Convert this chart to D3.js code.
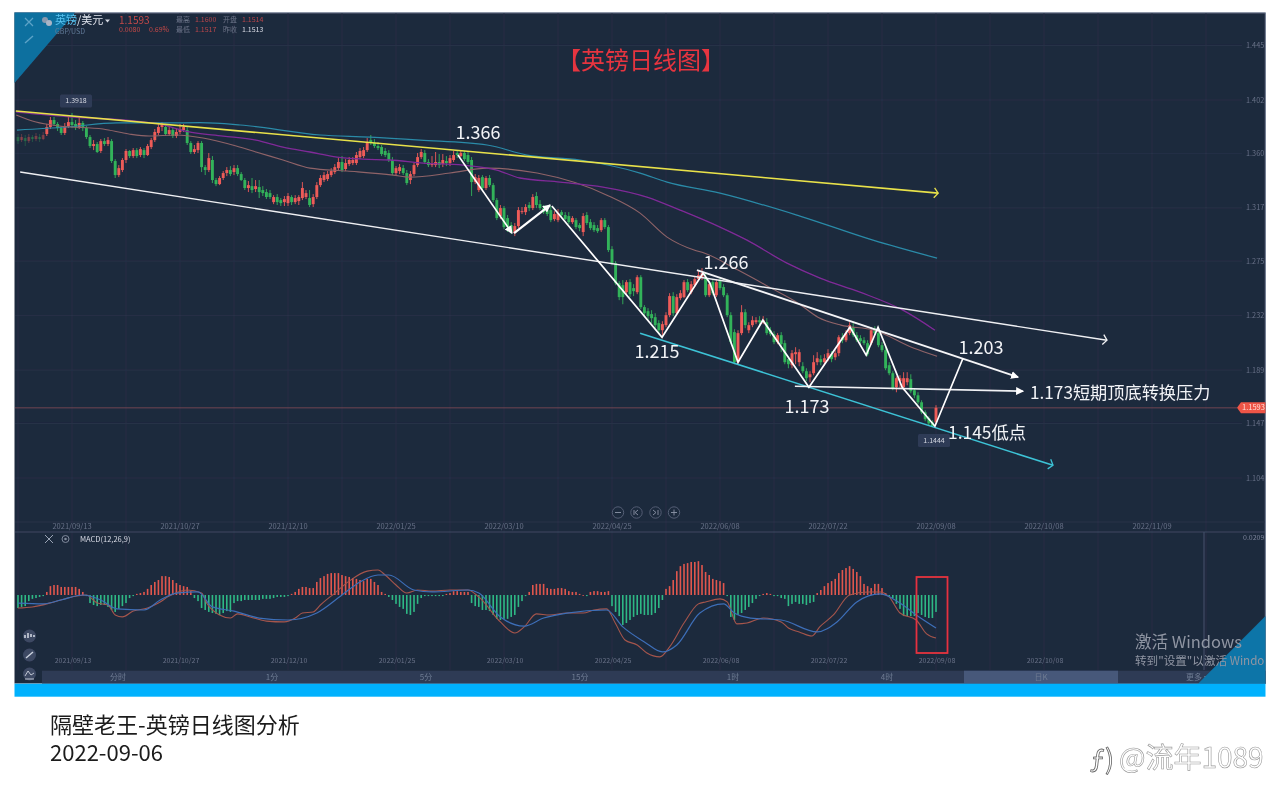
<!DOCTYPE html>
<html><head><meta charset="utf-8">
<script src="https://cdnjs.cloudflare.com/ajax/libs/d3/7.8.5/d3.min.js"></script>
<style>html,body{margin:0;background:#fff}svg{display:block}text{font-family:"Noto Sans CJK SC","Noto Sans",sans-serif}</style>
</head><body><svg id="c" width="1280" height="802"></svg>
<script>
const opens=[
1.3728,1.3704,1.3720,1.3696,1.3728,1.3712,1.3728,1.3712,1.3752,1.3807,1.3862,1.3831,1.3799,1.3760,1.3815,1.3846,
1.3831,1.3807,1.3839,1.3799,1.3728,1.3657,1.3673,1.3618,1.3696,1.3673,1.3696,1.3539,1.3428,1.3468,1.3547,1.3618,
1.3578,1.3625,1.3586,1.3625,1.3586,1.3649,1.3704,1.3760,1.3807,1.3807,1.3752,1.3783,1.3736,1.3768,1.3783,1.3783,
1.3681,1.3610,1.3625,1.3681,1.3491,1.3468,1.3547,1.3389,1.3357,1.3405,1.3444,1.3468,1.3452,1.3483,1.3436,1.3389,
1.3326,1.3341,1.3318,1.3334,1.3310,1.3294,1.3286,1.3215,1.3255,1.3231,1.3215,1.3207,1.3255,1.3215,1.3223,1.3247,
1.3255,1.3247,1.3199,1.3255,1.3349,1.3389,1.3397,1.3428,1.3452,1.3483,1.3531,1.3476,1.3515,1.3523,1.3523,1.3570,
1.3578,1.3625,1.3704,1.3681,1.3657,1.3649,1.3618,1.3602,1.3547,1.3444,1.3460,1.3483,1.3444,1.3389,1.3436,1.3507,
1.3570,1.3602,1.3531,1.3507,1.3507,1.3531,1.3515,1.3539,1.3523,1.3547,1.3602,1.3578,1.3602,1.3586,1.3547,1.3373,
1.3310,1.3412,1.3326,1.3405,1.3349,1.3231,1.3105,1.3168,1.3089,1.3034,1.2971,1.3026,1.3136,1.3136,1.3192,1.3168,
1.3263,1.3199,1.3168,1.3152,1.3152,1.3081,1.3073,1.3136,1.3113,1.3105,1.3057,1.3073,1.3034,1.2979,1.3113,1.3057,
1.3034,1.3010,1.2994,1.3073,1.3018,1.2844,1.2734,1.2576,1.2560,1.2505,1.2584,1.2537,1.2505,1.2623,1.2387,1.2355,
1.2332,1.2308,1.2261,1.2205,1.2245,1.2324,1.2474,1.2339,1.2458,1.2466,1.2584,1.2505,1.2560,1.2608,1.2623,1.2623,
1.2481,1.2584,1.2481,1.2592,1.2545,1.2481,1.2324,1.2190,1.1953,1.2182,1.2347,1.2205,1.2245,1.2268,1.2284,1.2268,
1.2268,1.2205,1.2174,1.2111,1.2166,1.2103,1.1977,1.1929,1.2016,1.1953,1.1921,1.1882,1.1834,1.1866,1.1953,1.1977,
1.1953,1.1984,1.2016,1.1992,1.2024,1.2150,1.2126,1.2182,1.2229,1.2166,1.2142,1.2126,1.2103,1.2103,1.2213,1.2182,
1.2087,1.2048,1.1929,1.1866,1.1755,1.1803,1.1755,1.1795,1.1819,1.1732,1.1692,1.1637,1.1558,1.1511,1.1479,1.1479];
const closes=[
1.3696,1.3728,1.3696,1.3728,1.3712,1.3736,1.3712,1.3744,1.3807,1.3862,1.3831,1.3799,1.3760,1.3815,1.3846,1.3823,
1.3807,1.3839,1.3799,1.3728,1.3657,1.3673,1.3610,1.3696,1.3673,1.3704,1.3539,1.3428,1.3483,1.3547,1.3618,1.3578,
1.3625,1.3578,1.3633,1.3586,1.3657,1.3704,1.3768,1.3807,1.3823,1.3752,1.3783,1.3736,1.3768,1.3791,1.3807,1.3681,
1.3610,1.3633,1.3681,1.3491,1.3468,1.3562,1.3389,1.3357,1.3405,1.3444,1.3468,1.3436,1.3483,1.3436,1.3389,1.3326,
1.3349,1.3310,1.3341,1.3294,1.3286,1.3255,1.3255,1.3255,1.3215,1.3207,1.3239,1.3263,1.3215,1.3247,1.3255,1.3326,
1.3286,1.3192,1.3255,1.3349,1.3405,1.3428,1.3436,1.3460,1.3491,1.3531,1.3468,1.3523,1.3547,1.3547,1.3586,1.3618,
1.3625,1.3689,1.3681,1.3657,1.3641,1.3594,1.3586,1.3547,1.3444,1.3483,1.3491,1.3444,1.3365,1.3436,1.3507,1.3570,
1.3610,1.3531,1.3507,1.3523,1.3531,1.3507,1.3547,1.3523,1.3562,1.3586,1.3586,1.3602,1.3554,1.3531,1.3373,1.3412,
1.3405,1.3326,1.3405,1.3349,1.3231,1.3089,1.3168,1.3018,1.3018,1.2979,1.3026,1.3152,1.3144,1.3176,1.3168,1.3255,
1.3192,1.3168,1.3136,1.3121,1.3073,1.3121,1.3128,1.3113,1.3081,1.3057,1.3089,1.3018,1.3010,1.3105,1.3050,1.3010,
1.2994,1.2986,1.3073,1.3018,1.2837,1.2734,1.2576,1.2466,1.2466,1.2584,1.2489,1.2513,1.2623,1.2387,1.2339,1.2316,
1.2300,1.2245,1.2205,1.2253,1.2324,1.2474,1.2339,1.2466,1.2497,1.2584,1.2521,1.2568,1.2608,1.2639,1.2655,1.2481,
1.2568,1.2497,1.2584,1.2537,1.2481,1.2324,1.2111,1.1953,1.2182,1.2347,1.2245,1.2245,1.2284,1.2284,1.2268,1.2284,
1.2182,1.2174,1.2111,1.2166,1.2095,1.1953,1.1937,1.2024,1.2032,1.2032,1.1882,1.1827,1.1858,1.1953,1.1984,1.1953,
1.1984,1.2024,1.1977,1.2024,1.2150,1.2126,1.2182,1.2245,1.2166,1.2126,1.2119,1.2103,1.2016,1.2205,1.2182,1.2087,
1.2048,1.1905,1.1866,1.1748,1.1827,1.1827,1.1827,1.1827,1.1724,1.1692,1.1637,1.1558,1.1503,1.1471,1.1448,1.1593];
const highs=[
1.3752,1.3752,1.3744,1.3752,1.3744,1.3760,1.3752,1.3768,1.3831,1.3886,1.3886,1.3846,1.3815,1.3839,1.3886,1.3918,
1.3862,1.3878,1.3854,1.3815,1.3744,1.3704,1.3689,1.3712,1.3720,1.3728,1.3712,1.3554,1.3507,1.3562,1.3633,1.3625,
1.3641,1.3641,1.3649,1.3641,1.3673,1.3720,1.3791,1.3839,1.3846,1.3831,1.3807,1.3807,1.3799,1.3831,1.3831,1.3807,
1.3696,1.3665,1.3696,1.3696,1.3507,1.3602,1.3578,1.3405,1.3420,1.3460,1.3491,1.3499,1.3507,1.3507,1.3452,1.3405,
1.3381,1.3405,1.3389,1.3389,1.3341,1.3318,1.3310,1.3270,1.3278,1.3247,1.3263,1.3286,1.3270,1.3270,1.3270,1.3373,
1.3310,1.3310,1.3278,1.3373,1.3428,1.3452,1.3460,1.3483,1.3515,1.3562,1.3578,1.3554,1.3570,1.3570,1.3610,1.3641,
1.3649,1.3720,1.3744,1.3712,1.3689,1.3665,1.3641,1.3625,1.3570,1.3499,1.3515,1.3507,1.3468,1.3460,1.3523,1.3602,
1.3633,1.3625,1.3554,1.3578,1.3610,1.3594,1.3594,1.3578,1.3586,1.3618,1.3625,1.3625,1.3618,1.3610,1.3570,1.3436,
1.3428,1.3428,1.3420,1.3428,1.3365,1.3247,1.3192,1.3184,1.3113,1.3057,1.3050,1.3176,1.3176,1.3199,1.3215,1.3278,
1.3294,1.3231,1.3192,1.3176,1.3184,1.3144,1.3160,1.3152,1.3136,1.3136,1.3105,1.3089,1.3050,1.3128,1.3136,1.3081,
1.3057,1.3034,1.3089,1.3089,1.3034,1.2868,1.2750,1.2592,1.2600,1.2600,1.2608,1.2568,1.2639,1.2639,1.2403,1.2379,
1.2363,1.2339,1.2284,1.2276,1.2347,1.2497,1.2505,1.2489,1.2521,1.2600,1.2608,1.2592,1.2631,1.2671,1.2695,1.2655,
1.2592,1.2608,1.2608,1.2623,1.2568,1.2497,1.2347,1.2213,1.2205,1.2403,1.2371,1.2268,1.2316,1.2308,1.2316,1.2316,
1.2300,1.2229,1.2197,1.2182,1.2190,1.2126,1.2000,1.2048,1.2071,1.2055,1.1953,1.1905,1.1882,1.2008,1.2032,1.2008,
1.2016,1.2055,1.2040,1.2048,1.2166,1.2182,1.2205,1.2268,1.2261,1.2190,1.2166,1.2150,1.2126,1.2229,1.2237,1.2205,
1.2111,1.2071,1.1953,1.1882,1.1842,1.1850,1.1874,1.1874,1.1858,1.1748,1.1716,1.1653,1.1574,1.1527,1.1495,1.1614];
const lows=[
1.3673,1.3689,1.3657,1.3681,1.3689,1.3696,1.3689,1.3704,1.3736,1.3791,1.3815,1.3775,1.3744,1.3744,1.3799,1.3799,
1.3783,1.3791,1.3775,1.3712,1.3641,1.3625,1.3602,1.3602,1.3657,1.3657,1.3523,1.3405,1.3412,1.3452,1.3523,1.3562,
1.3562,1.3562,1.3570,1.3562,1.3578,1.3633,1.3689,1.3744,1.3775,1.3736,1.3736,1.3720,1.3720,1.3752,1.3768,1.3665,
1.3594,1.3594,1.3602,1.3452,1.3428,1.3452,1.3365,1.3341,1.3349,1.3389,1.3420,1.3420,1.3428,1.3420,1.3381,1.3310,
1.3294,1.3286,1.3294,1.3247,1.3263,1.3239,1.3239,1.3199,1.3192,1.3184,1.3184,1.3184,1.3192,1.3199,1.3192,1.3231,
1.3239,1.3176,1.3176,1.3239,1.3334,1.3373,1.3381,1.3412,1.3436,1.3468,1.3452,1.3460,1.3499,1.3507,1.3507,1.3554,
1.3562,1.3610,1.3665,1.3641,1.3625,1.3578,1.3570,1.3531,1.3428,1.3428,1.3436,1.3428,1.3349,1.3357,1.3420,1.3491,
1.3554,1.3515,1.3491,1.3491,1.3491,1.3483,1.3491,1.3499,1.3499,1.3531,1.3562,1.3570,1.3539,1.3515,1.3263,1.3357,
1.3294,1.3310,1.3310,1.3334,1.3215,1.3073,1.3081,1.3002,1.2979,1.2963,1.2947,1.3010,1.3121,1.3113,1.3144,1.3152,
1.3168,1.3152,1.3121,1.3105,1.3057,1.3065,1.3057,1.3089,1.3073,1.3042,1.3042,1.3002,1.2986,1.2947,1.3034,1.2994,
1.2979,1.2971,1.2979,1.3002,1.2821,1.2718,1.2560,1.2442,1.2410,1.2489,1.2466,1.2474,1.2489,1.2371,1.2308,1.2284,
1.2261,1.2221,1.2174,1.2166,1.2229,1.2308,1.2316,1.2324,1.2442,1.2458,1.2505,1.2489,1.2545,1.2592,1.2600,1.2466,
1.2466,1.2481,1.2466,1.2521,1.2466,1.2308,1.2095,1.1937,1.1937,1.2166,1.2221,1.2182,1.2229,1.2253,1.2245,1.2253,
1.2166,1.2158,1.2095,1.2095,1.2032,1.1937,1.1905,1.1905,1.1937,1.1921,1.1866,1.1803,1.1795,1.1850,1.1929,1.1929,
1.1929,1.1961,1.1953,1.1969,1.2000,1.2103,1.2111,1.2166,1.2150,1.2111,1.2095,1.2087,1.2000,1.2087,1.2166,1.2071,
1.2032,1.1890,1.1850,1.1732,1.1716,1.1748,1.1732,1.1771,1.1708,1.1669,1.1621,1.1543,1.1487,1.1456,1.1444,1.1464];

// MACD histogram, in units of 0.0001
const macdHist=[
-47,-43,-40,-22,-14,-11,-7,-4,11,32,36,36,29,29,29,29,
29,22,11,-4,-29,-36,-40,-36,-36,-43,-54,-61,-50,-40,-29,-11,
-4,4,7,11,22,36,47,54,68,68,65,54,43,36,32,29,
14,-11,-22,-47,-54,-61,-65,-68,-72,-65,-58,-61,-29,-22,-22,-18,
-18,-18,-18,-18,-14,-14,-14,-11,-7,-7,-7,-4,4,11,22,29,
29,25,25,47,61,68,76,79,79,79,72,68,65,61,58,54,
50,58,58,47,36,11,4,-7,-18,-32,-43,-50,-68,-72,-61,-32,
-11,-4,-4,-4,-4,-4,-4,4,7,14,14,11,11,11,-29,-40,
-43,-54,-54,-58,-72,-86,-90,-86,-86,-79,-72,-43,-22,-4,11,36,
40,40,40,25,22,22,25,25,22,14,11,11,4,0,-4,11,
14,14,11,11,14,-40,-61,-76,-108,-101,-90,-79,-72,-68,-72,-72,
-72,-65,-47,-18,22,32,54,86,104,112,115,119,119,122,108,83,
72,58,54,50,43,-4,-79,-90,-72,-65,-54,-43,-29,-14,-4,4,
7,4,-4,-4,-11,-14,-40,-32,-25,-32,-32,-36,-29,-25,7,18,
32,43,50,58,79,90,97,104,94,83,68,40,32,25,40,40,
25,7,-4,-11,-32,-50,-76,-76,-76,-76,-65,-72,-79,-83,-83,-61];
const difIdx=[0,4,10,15,19,22,25,27,29,32,36,39,42,47,51,52.4,56,59,61,64.5,69,74,77,79,82,84,88,92,97,100,102,105,108,111,115,120,125,128,134,138,140.6,144,147.7,152.5,157,160,163.5,165.9,168.6,172,174.7,178.3,181,185,189,191,195,197,199.7,202.5,207,212,214,217,220.5,222.7,226.5,231,236,239.5,242,245,249.5,252.4,255];
const difVal=[-47,-43,-25,-7,0,-29,-36,-72,-79,-58,-47,-29,-4,18,7,-29,-72,-83,-68,-79,-94,-97,-83,-65,-61,-36,7,50,86,90,72,36,7,18,14,18,18,-7,-97,-137,-115,-68,-72,-65,-65,-54,-50,-101,-162,-180,-209,-223,-187,-101,-32,-25,-14,-25,-104,-101,-83,-97,-119,-133,-148,-115,-72,0,11,11,-7,-65,-90,-140,-155];
const deaIdx=[0,7,12,18,23,27.5,35,39.5,44,50,54,60,67,75,83,90,95,100,103,110,115,125,128,134,140.6,146,152.5,163.5,168,174,179,183,189.4,196,199,203.5,212,222,227.5,233,239.5,245,249.5,255];
const deaVal=[-29,-32,-18,0,-18,-50,-54,-18,7,11,-43,-58,-83,-90,-65,0,47,72,72,18,11,18,7,-79,-112,-83,-65,-54,-115,-169,-205,-180,-65,-32,-65,-83,-90,-133,-97,-25,4,-29,-72,-119];

// moving averages
const purpleIdx=[-0.5,15,32.8,39.2,47.5,57,66.1,73.6,81.1,88.6,95.8,103.3,112.5,123.6,133,139.4,150.6,162.5,174.7,183.9,195,202.5,213.6,222.8,233.9,245.8,254.7];
const purpleVal=[1.3925,1.3886,1.3854,1.3831,1.3768,1.3736,1.3704,1.3649,1.3610,1.3570,1.3554,1.3547,1.3523,1.3507,1.3468,1.3405,1.3373,1.3334,1.3255,1.3152,1.3018,1.2915,1.2734,1.2616,1.2505,1.2363,1.2205];
const tanIdx=[-0.5,5,11.4,23.6,30.8,36.4,43.9,51.4,60.6,66.1,73.6,81.1,91.4,104.2,108.9,120,130.3,144.2,163.6,172.8,180.3,187.8,190.6,200,209.2,216.7,222.2,228.6,237.8,248.9,255.3];
const tanVal=[1.3902,1.3846,1.3815,1.3791,1.3752,1.3736,1.3744,1.3720,1.3657,1.3610,1.3547,1.3483,1.3460,1.3428,1.3412,1.3444,1.3483,1.3444,1.3270,1.3128,1.2939,1.2837,1.2813,1.2679,1.2537,1.2418,1.2308,1.2245,1.2205,1.2063,1.2000];
const tealIdx=[-0.3,13.6,27.5,41.4,50.6,61.7,83.9,97.8,111.7,130.3,141.4,156.1,172.8,180.3,195,217.2,237.5,255.3];
const tealVal=[1.3783,1.3807,1.3839,1.3839,1.3841,1.3823,1.3744,1.3728,1.3704,1.3665,1.3586,1.3547,1.3444,1.3373,1.3286,1.3105,1.2915,1.2773];

// hand-drawn analysis lines: [bar index, price]
const yellowTrend=[[-0.6,1.3933],[255.6,1.3286]];
const whiteChannel=[[0.6,1.3452],[302.5,1.2126]];
const cyanChannel=[[172.8,1.2182],[287.5,1.1140]];
const resistance=[[188.6,1.2679],[277.8,1.1835]];
const pressure=[[215.8,1.1763],[279.2,1.1724]];
const zigA=[[122.2,1.3586],[137.2,1.2971]];
const zigB=[[137.8,1.2971],[147.8,1.3192]];
const zigC=[[148.3,1.3184],[178.9,1.2150],[190.3,1.2655],[192.2,1.2576],[200,1.1953],[206.9,1.2284],[219.7,1.1755],[231.1,1.2229],[235.6,1.2008],[238.9,1.2229],[245.6,1.1755],[254.7,1.1448],[262.5,1.1984]];

const priceTicks=[1.445,1.402,1.360,1.317,1.275,1.232,1.189,1.147,1.104];
const dateIdx=[15,45,75,105,135,165,195,225,255,285,315];
const dateLabels=["2021/09/13","2021/10/27","2021/12/10","2022/01/25","2022/03/10","2022/04/25","2022/06/08","2022/07/22","2022/09/08","2022/10/08","2022/11/09"];
const gridIdx=d3.range(0,331,15);
const tabLabels=["分时","1分","5分","15分","1时","4时","日K","更多 ▾"];
const tabCenters=[118,272,426,580,733,887,1041,1197];
const lastPrice=1.1593, lastLow=1.1444, topHigh=1.3918, macdTop=209;

const x=d3.scaleLinear().domain([0,255]).range([18,936]);
const y=d3.scaleLinear().domain([1.402,1.104]).range([100,478]);
const ym=d3.scaleLinear().domain([-macdTop,macdTop]).range([653,537]);
const svg=d3.select("#c");
const GRID="#28334a", BG="#1e293d", RED="#ee5b58", GREEN="#33b35a";

const defs=svg.append("defs");
defs.append("filter").attr("id","soft").attr("filterUnits","userSpaceOnUse").attr("x",0).attr("y",0).attr("width",1280).attr("height",802)
  .append("feGaussianBlur").attr("stdDeviation",0.4);
function chev(id,c,s){defs.append("marker").attr("id",id).attr("markerUnits","userSpaceOnUse").attr("markerWidth",s*2+4).attr("markerHeight",s*2+4)
 .attr("refX",s+1).attr("refY",s+2).attr("orient","auto").attr("viewBox",`0 0 ${s*2+4} ${s*2+4}`)
 .append("path").attr("d",`M2,2 L${s+1},${s+2} L2,${s*2+2}`).attr("fill","none").attr("stroke",c).attr("stroke-width",1.3);}
chev("mY","#e8e24a",5);chev("mW","#f2f4f6",5);chev("mC","#3cc3d6",5);
function solid(id,c){defs.append("marker").attr("id",id).attr("markerUnits","userSpaceOnUse").attr("markerWidth",12).attr("markerHeight",12)
 .attr("refX",7).attr("refY",5).attr("orient","auto").attr("viewBox","0 0 12 10").append("path").attr("d","M0,1 L8,5 L0,9 Z").attr("fill",c);}
solid("mS","#ffffff");

const root=svg.append("g").attr("filter","url(#soft)");
root.append("rect").attr("x",14.5).attr("y",12.5).attr("width",1251).attr("height",671).attr("fill",BG);
root.append("line").attr("x1",14.5).attr("x2",1265.5).attr("y1",12.8).attr("y2",12.8).attr("stroke","#8e99ad");
root.append("line").attr("x1",1265.3).attr("x2",1265.3).attr("y1",13).attr("y2",684).attr("stroke","#6e7b92");

// grid
root.append("g").selectAll("line").data(gridIdx).join("line")
 .attr("x1",d=>x(d)).attr("x2",d=>x(d)).attr("y1",13).attr("y2",670).attr("stroke",GRID).attr("stroke-width",.8);
root.append("g").selectAll("line").data(priceTicks).join("line")
 .attr("x1",15).attr("x2",1242).attr("y1",d=>y(d)).attr("y2",d=>y(d)).attr("stroke",GRID).attr("stroke-width",.8);
root.append("line").attr("x1",15).attr("x2",1265).attr("y1",522).attr("y2",522).attr("stroke",GRID);
root.append("line").attr("x1",15).attr("x2",1265).attr("y1",532).attr("y2",532).attr("stroke","#3d4a63");
root.append("line").attr("x1",1204).attr("x2",1204).attr("y1",532).attr("y2",670).attr("stroke","#46536c");

// last price line
root.append("line").attr("x1",15).attr("x2",1237).attr("y1",y(lastPrice)).attr("y2",y(lastPrice)).attr("stroke","#6e4552").attr("stroke-width",1);

// candles
const idx=d3.range(closes.length);
const cg=root.append("g");
cg.selectAll("line").data(idx).join("line")
 .attr("x1",i=>x(i)).attr("x2",i=>x(i)).attr("y1",i=>y(highs[i])).attr("y2",i=>y(lows[i]))
 .attr("stroke",i=>closes[i]>=opens[i]?RED:GREEN).attr("stroke-width",.9).attr("opacity",i=>i<8?.35:1);
cg.selectAll("rect").data(idx).join("rect")
 .attr("x",i=>x(i)-1.45).attr("width",2.9)
 .attr("y",i=>y(Math.max(opens[i],closes[i])))
 .attr("height",i=>Math.max(1,Math.abs(y(opens[i])-y(closes[i]))))
 .attr("fill",i=>closes[i]>=opens[i]?RED:GREEN).attr("opacity",i=>i<8?.35:1);

// moving averages
const line=d3.line().x(d=>x(d[0])).y(d=>y(d[1])).curve(d3.curveMonotoneX);
const zip=(a,b)=>a.map((v,i)=>[v,b[i]]);
root.append("path").attr("d",line(zip(tealIdx,tealVal))).attr("fill","none").attr("stroke","#2a8ba8").attr("stroke-width",1.2);
root.append("path").attr("d",line(zip(tanIdx,tanVal))).attr("fill","none").attr("stroke","#8f6468").attr("stroke-width",1.1);
root.append("path").attr("d",line(zip(purpleIdx,purpleVal))).attr("fill","none").attr("stroke","#7f2a98").attr("stroke-width",1.3);

// analysis lines
const straight=d3.line().x(d=>x(d[0])).y(d=>y(d[1]));
function draw(pts,c,w,marker){const p=root.append("path").attr("d",straight(pts)).attr("fill","none").attr("stroke",c).attr("stroke-width",w).attr("stroke-linejoin","miter");
 if(marker)p.attr("marker-end",`url(#${marker})`);return p;}
draw(yellowTrend,"#e8e24a",1.6,"mY");
draw(whiteChannel,"#eef0f3",1.4,"mW");
draw(cyanChannel,"#3cc3d6",1.6,"mC");
draw(resistance,"#f4f5f7",1.9,"mS");
draw(pressure,"#f0f2f5",1.6,"mS");
draw(zigA,"#ffffff",1.6,"mS");
draw(zigB,"#ffffff",2.2,"mS");
draw(zigC,"#ffffff",1.7);

// axis labels
const dim="#667287";
root.append("g").selectAll("text").data(priceTicks).join("text").attr("x",1246).attr("y",d=>y(d)).attr("dy","0.35em")
 .attr("font-size",7.3).attr("fill",dim).text(d=>d.toFixed(3));
root.append("g").selectAll("text").data(dateIdx).join("text").attr("x",d=>x(d)).attr("y",526.5).attr("dy","0.35em")
 .attr("text-anchor","middle").attr("font-size",7.5).attr("fill",dim).text((d,i)=>dateLabels[i]);
root.append("g").selectAll("text").data(dateIdx.slice(0,10)).join("text").attr("x",d=>x(d)+1).attr("y",661).attr("dy","0.35em")
 .attr("text-anchor","middle").attr("font-size",7).attr("fill",dim).text((d,i)=>dateLabels[i]);

// MACD
root.append("g").selectAll("rect").data(idx).join("rect")
 .attr("x",i=>x(i)-.8).attr("width",1.6)
 .attr("y",i=>macdHist[i]>=0?ym(macdHist[i]):ym(0))
 .attr("height",i=>Math.max(.8,Math.abs(ym(macdHist[i])-ym(0))))
 .attr("fill",i=>macdHist[i]>=0?"#e0564e":"#2fb885");
const ml=d3.line().x(d=>x(d[0])).y(d=>ym(d[1])).curve(d3.curveMonotoneX);
root.append("path").attr("d",ml(zip(difIdx,difVal))).attr("fill","none").attr("stroke","#a5564c").attr("stroke-width",1.1);
root.append("path").attr("d",ml(zip(deaIdx,deaVal))).attr("fill","none").attr("stroke","#3c6fb8").attr("stroke-width",1.2);
root.append("rect").attr("x",916.5).attr("y",577).attr("width",31).attr("height",76).attr("fill","none").attr("stroke","#e5323f").attr("stroke-width",1.8);
root.append("text").attr("x",1243).attr("y",538).attr("dy","0.35em").attr("font-size",7).attr("fill","#7a859a").text((macdTop/1e4).toFixed(4));
root.append("text").attr("x",1240).attr("y",651).attr("dy","0.35em").attr("font-size",7).attr("fill","#4f6f90").text((-macdTop/1e4).toFixed(4));
root.append("text").attr("x",80).attr("y",539).attr("dy","0.35em").attr("font-size",7.5).attr("fill","#d8dde6").text("MACD(12,26,9)");
root.append("path").attr("d","M45,535 L53,543 M53,535 L45,543").attr("stroke","#9aa4b5").attr("stroke-width",1);
root.append("circle").attr("cx",65.5).attr("cy",539).attr("r",3.5).attr("fill","none").attr("stroke","#7f8a9c");
root.append("circle").attr("cx",65.5).attr("cy",539).attr("r",1.3).attr("fill","#7f8a9c");

// tool bar
root.append("rect").attr("x",42).attr("y",670.7).attr("width",1223.5).attr("height",13).attr("fill","#2e3b55");
root.append("rect").attr("x",964).attr("y",670.7).attr("width",154).attr("height",13).attr("fill","#47587a");
root.append("g").selectAll("text").data(tabLabels).join("text").attr("x",(d,i)=>tabCenters[i]).attr("y",677).attr("dy","0.35em")
 .attr("text-anchor","middle").attr("font-size",8).attr("fill","#6f7c93").text(d=>d);
[636,655,674].forEach(cy=>root.append("circle").attr("cx",29.5).attr("cy",cy).attr("r",6.5).attr("fill","#3c4964"));
root.append("path").attr("d","M25,638 v-3 M28,638 v-5 M31,637 v-3 M34,637 v-2").attr("stroke","#cdd3de").attr("stroke-width",1.6);
root.append("path").attr("d","M26,658 L33,652").attr("stroke","#cdd3de").attr("stroke-width",1.4);
root.append("path").attr("d","M25,676 L28,671 L31,675 L34,673 M25,679 H34").attr("stroke","#cdd3de").attr("stroke-width",.9).attr("fill","none");
[618,636.5,655.5,674].forEach(cx=>root.append("circle").attr("cx",cx).attr("cy",512.5).attr("r",5.7).attr("fill","none").attr("stroke","#525e74"));
root.append("path").attr("d","M615,512.5 h6 M671,512.5 h6 M674,509.5 v6 M634,510 v5 M638,510 l-3,2.5 l3,2.5 M653,510 l3,2.5 l-3,2.5 M658,510 v5").attr("stroke","#8c96a8").attr("fill","none").attr("stroke-width",.9);

// corners
root.append("path").attr("d","M14.5,12.5 H75 L14.5,83 Z").attr("fill","#10709f");
root.append("path").attr("d","M1265.5,616 V683.7 H1198 Z").attr("fill","#0e74a8");
root.append("rect").attr("x",14.5).attr("y",683.7).attr("width",1251).attr("height",13).attr("fill","#00b1fd");

// header
root.append("path").attr("d","M25,18 L33,26 M33,18 L25,26").attr("stroke","#5ca3c8").attr("stroke-width",1.2);
root.append("path").attr("d","M25,43 L33,36").attr("stroke","#5ca3c8").attr("stroke-width",1.4);
root.append("circle").attr("cx",45).attr("cy",20).attr("r",3).attr("fill","#8a99ae");
root.append("circle").attr("cx",49).attr("cy",23).attr("r",3).attr("fill","#aab5c6");
root.append("text").attr("x",55).attr("y",20.5).attr("dy","0.35em").attr("font-size",11).attr("fill","#58c3f0").text("英镑");
root.append("text").attr("x",77).attr("y",20.5).attr("dy","0.35em").attr("font-size",11).attr("fill","#dfe4ec").text("/美元");
root.append("path").attr("d","M105,19.5 h5 l-2.5,3 Z").attr("fill","#d0d6e0");
root.append("text").attr("x",55).attr("y",32).attr("dy","0.35em").attr("font-size",7).attr("fill","#5f7c98").text("GBP/USD");
root.append("text").attr("x",119).attr("y",20).attr("dy","0.35em").attr("font-size",10).attr("fill","#c44a48").text("1.1593");
root.append("text").attr("x",119).attr("y",30).attr("dy","0.35em").attr("font-size",7).attr("fill","#c44a48").text("0.0080");
root.append("text").attr("x",149).attr("y",30).attr("dy","0.35em").attr("font-size",7).attr("fill","#c44a48").text("0.69%");
const hdrL=["最高","开盘","最低","昨收"], hdrV=["1.1600","1.1514","1.1517","1.1513"], hdrX=[176,223,176,223], hdrY=[19.5,19.5,30,30];
hdrL.forEach((t,i)=>{root.append("text").attr("x",hdrX[i]).attr("y",hdrY[i]).attr("dy","0.35em").attr("font-size",7).attr("fill","#6a7488").text(t);
 root.append("text").attr("x",hdrX[i]+19).attr("y",hdrY[i]).attr("dy","0.35em").attr("font-size",7).attr("fill",i==3?"#d8dde6":"#b8474a").text(hdrV[i]);});

// value tags
function tag(v,cx,cy){root.append("rect").attr("x",cx-16).attr("y",cy-6.5).attr("width",32).attr("height",13).attr("rx",1.5).attr("fill","#2f3a56");
 root.append("text").attr("x",cx).attr("y",cy).attr("dy","0.35em").attr("text-anchor","middle").attr("font-size",7).attr("fill","#d5dae3").text(v.toFixed(4));}
tag(topHigh,76,101);tag(lastLow,934,440.5);
root.append("path").attr("d",`M1237,${y(lastPrice)} l4,-5.5 H1265.5 V${y(lastPrice)+5.5} H1241 Z`).attr("fill","#ee5546");
root.append("text").attr("x",1253.5).attr("y",y(lastPrice)).attr("dy","0.35em").attr("text-anchor","middle").attr("font-size",7.5).attr("fill","#ffe1da").text(lastPrice.toFixed(4));

// annotation text
const notes=[["1.366",478,133,18],["1.266",726,263,18],["1.215",657,352,18],["1.173",807,407,18],["1.203",981,348,18]];
root.append("g").selectAll("text").data(notes).join("text").attr("x",d=>d[1]).attr("y",d=>d[2]).attr("dy","0.35em").attr("text-anchor","middle")
 .attr("font-size",d=>d[3]).attr("fill","#f2f4f7").text(d=>d[0]);
root.append("text").attr("x",1030).attr("y",393).attr("dy","0.35em").attr("font-size",17.2).attr("fill","#f2f4f7").text("1.173短期顶底转换压力");
root.append("text").attr("x",948).attr("y",433).attr("dy","0.35em").attr("font-size",17.4).attr("fill","#f2f4f7").text("1.145低点");
root.append("text").attr("x",641).attr("y",61).attr("dy","0.35em").attr("text-anchor","middle").attr("font-size",24).attr("fill","#e6343f").text("【英镑日线图】");

// activation watermark
root.append("text").attr("x",1135).attr("y",642).attr("dy","0.35em").attr("font-size",16.5).attr("fill","#8f96a3").text("激活 Windows");
root.append("text").attr("x",1135).attr("y",661).attr("dy","0.35em").attr("font-size",11.6).attr("fill","#8f96a3").text("转到\"设置\"以激活 Windo");

// caption
root.append("text").attr("x",50).attr("y",725).attr("dy","0.35em").attr("font-size",22).attr("fill","#1a1a1a").text("隔壁老王-英镑日线图分析");
root.append("text").attr("x",50).attr("y",753).attr("dy","0.35em").attr("font-size",22).attr("fill","#1a1a1a").text("2022-09-06");
root.append("text").attr("x",1119).attr("y",758).attr("dy","0.35em").attr("font-size",28).attr("fill","#ffffff").attr("stroke","#9a9a9a").attr("stroke-width",.6).text("@流年1089");
root.append("text").attr("x",1090).attr("y",760).attr("dy","0.35em").attr("font-size",27).attr("fill","#ffffff").attr("stroke","#666").attr("stroke-width",.8).text("ƒ)");
</script></body></html>
